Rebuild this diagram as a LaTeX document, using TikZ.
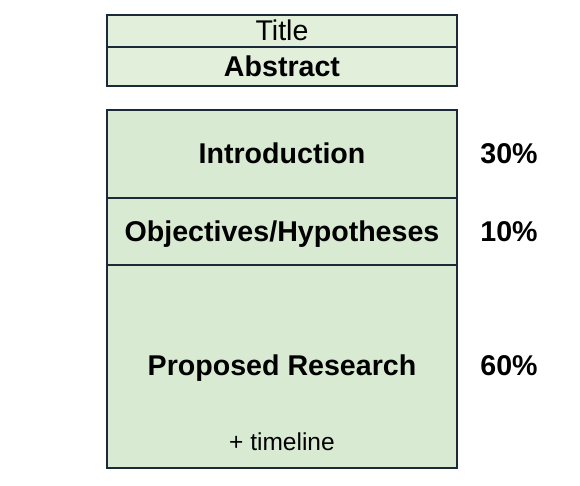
\documentclass[tikz,border=0pt]{standalone}
\usepackage{fontspec}
\setmainfont{Liberation Sans}
\begin{document}
\begin{tikzpicture}[x=1pt,y=-1pt,
  topfill/.style={fill=lighttop},
  lowfill/.style={fill=lightlow},
  boxrow/.style={draw=edgecol,line width=2.3pt,rectangle,inner sep=0pt,minimum width=350pt},
  bigtxt/.style={font=\fontsize{28.5}{32}\selectfont,inner sep=0pt,anchor=base},
  bigbold/.style={font=\fontsize{28.6}{32}\selectfont\bfseries,inner sep=0pt,anchor=base},
  smalltxt/.style={font=\fontsize{24.5}{28}\selectfont,inner sep=0pt,anchor=base}]
\definecolor{lighttop}{HTML}{E2EFDA}
\definecolor{lightlow}{HTML}{D9EAD3}
\definecolor{edgecol}{HTML}{1B2A38}
\useasboundingbox (0,0) rectangle (580,485);
% top boxes
\node[boxrow,topfill,minimum height=32pt] (titlebox) at (282,31) {};
\node[boxrow,topfill,minimum height=39pt] (absbox) at (282,66.5) {};
% main boxes
\node[boxrow,lowfill,minimum height=88pt] (introbox) at (282,154) {};
\node[boxrow,lowfill,minimum height=67pt] (objbox) at (282,231.5) {};
\node[boxrow,lowfill,minimum height=203pt] (propbox) at (282,366.5) {};
% texts
\node[bigtxt] (titletxt) at (282,40) {Title};
\node[bigbold] (abstxt) at (282,76) {Abstract};
\node[bigbold] (introtxt) at (282,163) {Introduction};
\node[bigbold] (objtxt) at (282,241.5) {Objectives/Hypotheses};
\node[bigbold] (proptxt) at (282,375) {Proposed Research};
\node[smalltxt] (timetxt) at (282,450) {+ timeline};
% percentages
\node[bigbold] (p30) at (509,163) {30\%};
\node[bigbold] (p10) at (509,241.5) {10\%};
\node[bigbold] (p60) at (509,375) {60\%};
\end{tikzpicture}
\end{document}
